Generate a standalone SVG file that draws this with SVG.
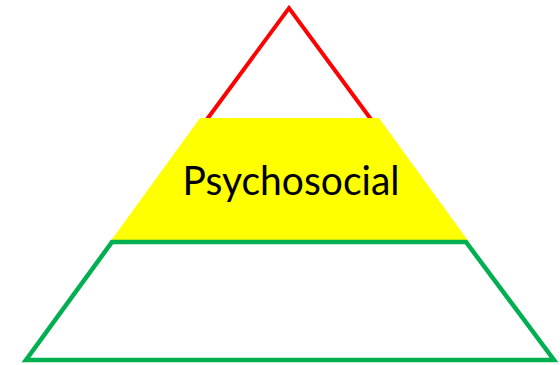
<svg xmlns="http://www.w3.org/2000/svg" width="560" height="365" viewBox="0 0 560 365">
<style>
.top{fill:none;stroke:#FF0000;stroke-width:4;stroke-linejoin:miter}
.mid{fill:#FFFF00;stroke:none}
.base{fill:none;stroke:#00B050;stroke-width:4.5;stroke-linejoin:miter}
.lbl{font-family:Lato,"Liberation Sans",sans-serif;font-size:40px;fill:#000}
</style>
<rect width="560" height="365" fill="#fff"/>
<g id="top">
<polyline class="top" points="205,122 289,8 373,122"/>
</g>
<g id="middle">
<polygon class="mid" points="200,118 379,118 469,242 110,242"/>
<text class="lbl" x="291" y="195" text-anchor="middle" textLength="217" lengthAdjust="spacingAndGlyphs">Psychosocial</text>
</g>
<g id="base">
<polygon class="base" points="112,242 466,242 554,360 26,360"/>
</g>
</svg>
